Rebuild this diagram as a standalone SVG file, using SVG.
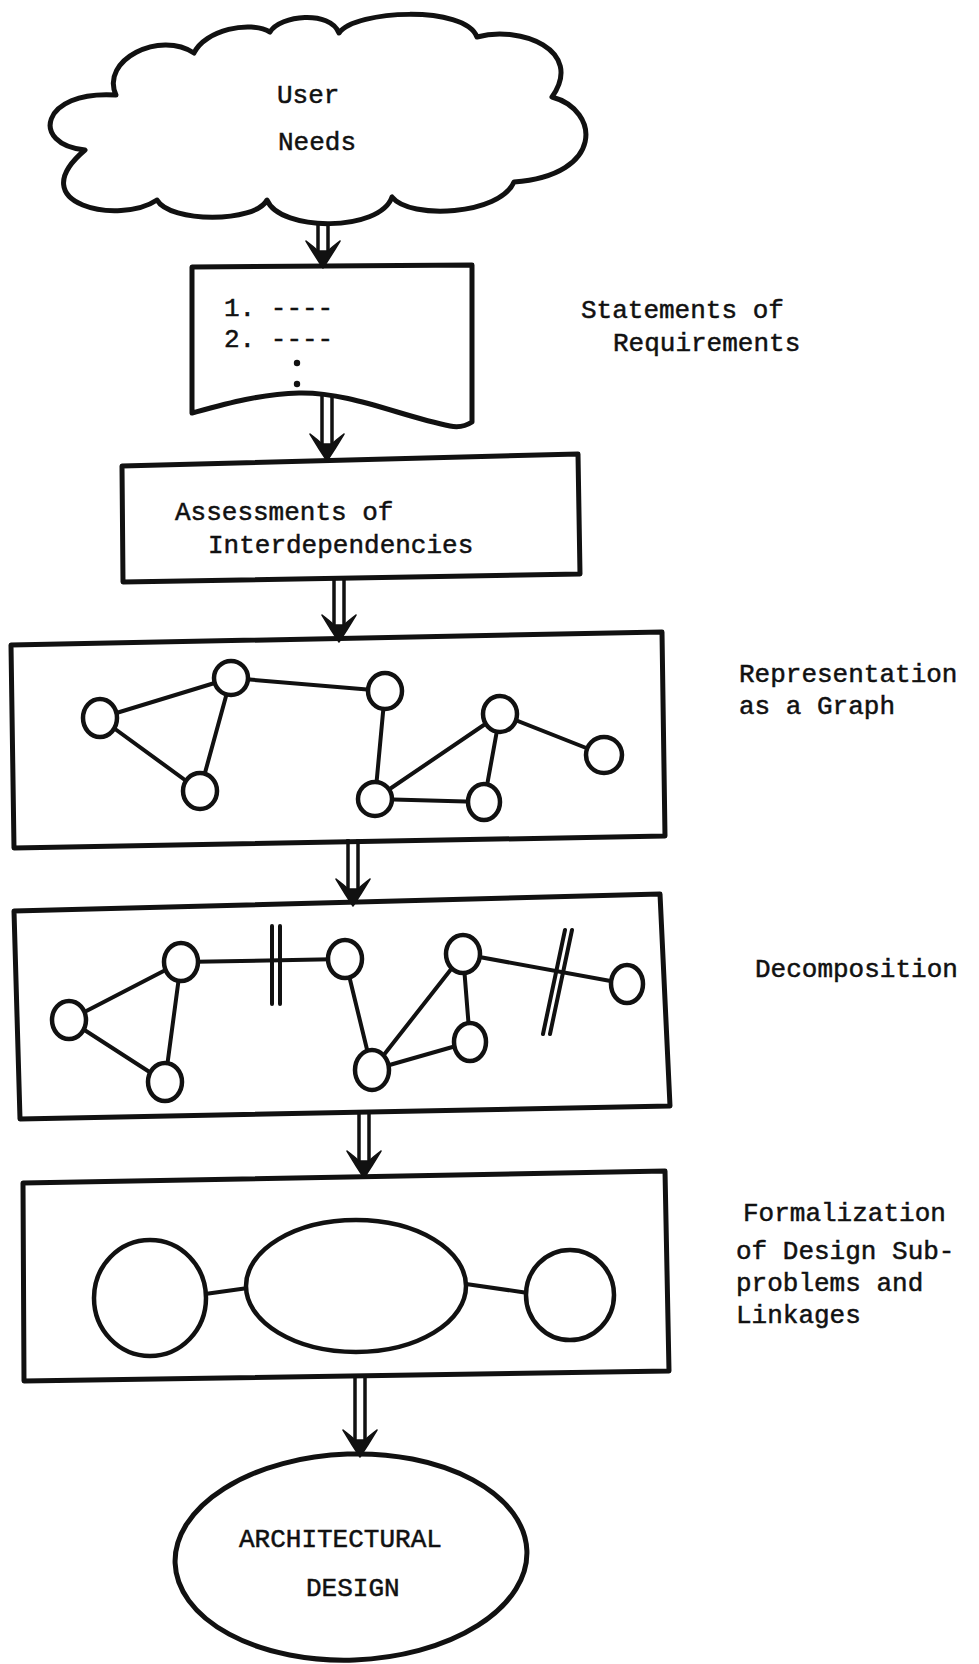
<svg xmlns="http://www.w3.org/2000/svg" width="979" height="1664" viewBox="0 0 979 1664">
<defs>
<style>
.shape{fill:#fff;stroke:#111;stroke-width:5;stroke-linejoin:round}
.nd{fill:#fff;stroke:#111;stroke-width:4.5}
.ed{stroke:#111;stroke-width:4;stroke-linecap:round}
.sh{stroke:#111;stroke-width:3.5}
.t{font-family:"Liberation Mono","DejaVu Sans Mono",monospace;font-size:26px;fill:#111;stroke:#111;stroke-width:0.5}
</style>
<path id="head" d="M-17 -27 Q-8 -12 0 0 Q8 -12 17 -27 Q9 -21 5 -17 L-5 -17 Q-9 -21 -17 -27 Z" fill="#111" stroke="#111" stroke-width="1.5" stroke-linejoin="round"/>
</defs>
<rect width="979" height="1664" fill="#fff"/>

<g id="user-needs">
<path class="shape" d="M116 95 C100 60,160 30,194 53 C205 30,250 20,270 32 C280 15,330 10,339 33 C355 10,465 5,477 37 C520 25,585 50,552 97 C600 110,605 175,514 182 C500 215,410 220,392 197 C380 232,280 232,267 200 C255 223,170 223,157 200 C120 225,20 205,85 150 C30 145,40 90,116 95 Z"/>
<text class="t" x="277" y="103">User</text>
<text class="t" x="278" y="150">Needs</text>
</g>

<g id="requirements">
<path class="shape" d="M192 267 L472 265 L472 422 C466 426,460 428,450 426 C400 416,350 392,299 393 C260 394,225 404,192 413 Z"/>
<text class="t" x="224" y="316">1. ----</text>
<text class="t" x="224" y="347">2. ----</text>
<circle cx="297" cy="363" r="3.2" fill="#111"/>
<circle cx="297" cy="384" r="3.2" fill="#111"/>
</g>
<g id="label-requirements">
<text class="t" x="581" y="318">Statements of</text>
<text class="t" x="613" y="351">Requirements</text>
</g>

<g id="assessments">
<polygon class="shape" points="122,466 578,454 580,574 123,582"/>
<text class="t" x="175" y="520">Assessments of</text>
<text class="t" x="208" y="553">Interdependencies</text>
</g>

<g id="graph">
<polygon class="shape" points="11,645 662,632 665,836 14,848"/>
<line class="ed" x1="100" y1="718" x2="231" y2="678"/>
<line class="ed" x1="100" y1="718" x2="200" y2="791"/>
<line class="ed" x1="231" y1="678" x2="200" y2="791"/>
<line class="ed" x1="231" y1="678" x2="385" y2="691"/>
<line class="ed" x1="385" y1="691" x2="375" y2="799"/>
<line class="ed" x1="375" y1="799" x2="500" y2="714"/>
<line class="ed" x1="375" y1="799" x2="484" y2="802"/>
<line class="ed" x1="484" y1="802" x2="500" y2="714"/>
<line class="ed" x1="500" y1="714" x2="604" y2="755"/>
<ellipse class="nd" cx="100" cy="718" rx="17" ry="19"/>
<ellipse class="nd" cx="231" cy="678" rx="17" ry="17"/>
<ellipse class="nd" cx="200" cy="791" rx="17" ry="18"/>
<ellipse class="nd" cx="385" cy="691" rx="17" ry="18"/>
<ellipse class="nd" cx="375" cy="799" rx="17" ry="17"/>
<ellipse class="nd" cx="484" cy="802" rx="16" ry="18"/>
<ellipse class="nd" cx="500" cy="714" rx="17" ry="18"/>
<ellipse class="nd" cx="604" cy="755" rx="18" ry="18"/>
</g>
<g id="label-graph">
<text class="t" x="739" y="682">Representation</text>
<text class="t" x="739" y="714">as a Graph</text>
</g>

<g id="decomposition">
<polygon class="shape" points="14,911 660,894 670,1106 20,1119"/>
<line class="ed" x1="69" y1="1020" x2="181" y2="962"/>
<line class="ed" x1="69" y1="1020" x2="165" y2="1082"/>
<line class="ed" x1="181" y1="962" x2="165" y2="1082"/>
<line class="ed" x1="181" y1="962" x2="345" y2="959"/>
<line class="ed" x1="345" y1="959" x2="372" y2="1070"/>
<line class="ed" x1="372" y1="1070" x2="463" y2="954"/>
<line class="ed" x1="372" y1="1070" x2="470" y2="1042"/>
<line class="ed" x1="470" y1="1042" x2="463" y2="954"/>
<line class="ed" x1="463" y1="954" x2="627" y2="984"/>
<line class="ed" x1="272" y1="926" x2="272" y2="1004"/>
<line class="ed" x1="280" y1="926" x2="280" y2="1004"/>
<line class="ed" x1="565" y1="930" x2="543" y2="1034"/>
<line class="ed" x1="572" y1="930" x2="550" y2="1034"/>
<ellipse class="nd" cx="69" cy="1020" rx="17" ry="19"/>
<ellipse class="nd" cx="181" cy="962" rx="17" ry="19"/>
<ellipse class="nd" cx="165" cy="1082" rx="17" ry="19"/>
<ellipse class="nd" cx="345" cy="959" rx="17" ry="19"/>
<ellipse class="nd" cx="372" cy="1070" rx="17" ry="20"/>
<ellipse class="nd" cx="470" cy="1042" rx="16" ry="19"/>
<ellipse class="nd" cx="463" cy="954" rx="17" ry="19"/>
<ellipse class="nd" cx="627" cy="984" rx="16" ry="19"/>
</g>
<g id="label-decomposition">
<text class="t" x="755" y="977">Decomposition</text>
</g>

<g id="formalization">
<polygon class="shape" points="23,1183 665,1171 669,1371 24,1381"/>
<line class="ed" x1="205" y1="1294" x2="248" y2="1288"/>
<line class="ed" x1="466" y1="1284" x2="528" y2="1293"/>
<ellipse class="nd" cx="150" cy="1298" rx="56" ry="58"/>
<ellipse class="nd" cx="356" cy="1286" rx="110" ry="66"/>
<ellipse class="nd" cx="570" cy="1295" rx="44" ry="45"/>
</g>
<g id="label-formalization">
<text class="t" x="743" y="1221">Formalization</text>
<text class="t" x="736" y="1259">of Design Sub-</text>
<text class="t" x="736" y="1291">problems and</text>
<text class="t" x="736" y="1323">Linkages</text>
</g>

<g id="architectural-design">
<ellipse class="shape" cx="351" cy="1557" rx="176" ry="103" transform="rotate(-2 351 1557)"/>
<text class="t" x="239" y="1547">ARCHITECTURAL</text>
<text class="t" x="306" y="1596">DESIGN</text>
</g>

<g id="connectors">
<g id="a1"><line class="sh" x1="318" y1="223" x2="318" y2="251"/><line class="sh" x1="328" y1="223" x2="328" y2="251"/><use href="#head" x="323" y="268"/></g>
<g id="a2"><line class="sh" x1="322" y1="395" x2="322" y2="444"/><line class="sh" x1="332" y1="395" x2="332" y2="444"/><use href="#head" x="327" y="461"/></g>
<g id="a3"><line class="sh" x1="334" y1="578" x2="334" y2="625"/><line class="sh" x1="344" y1="578" x2="344" y2="625"/><use href="#head" x="339" y="642"/></g>
<g id="a4"><line class="sh" x1="348" y1="839" x2="348" y2="889"/><line class="sh" x1="358" y1="839" x2="358" y2="889"/><use href="#head" x="353" y="906"/></g>
<g id="a5"><line class="sh" x1="359" y1="1111" x2="359" y2="1161"/><line class="sh" x1="369" y1="1111" x2="369" y2="1161"/><use href="#head" x="364" y="1178"/></g>
<g id="a6"><line class="sh" x1="355" y1="1376" x2="355" y2="1440"/><line class="sh" x1="365" y1="1376" x2="365" y2="1440"/><use href="#head" x="360" y="1457"/></g>
</g>
</svg>
